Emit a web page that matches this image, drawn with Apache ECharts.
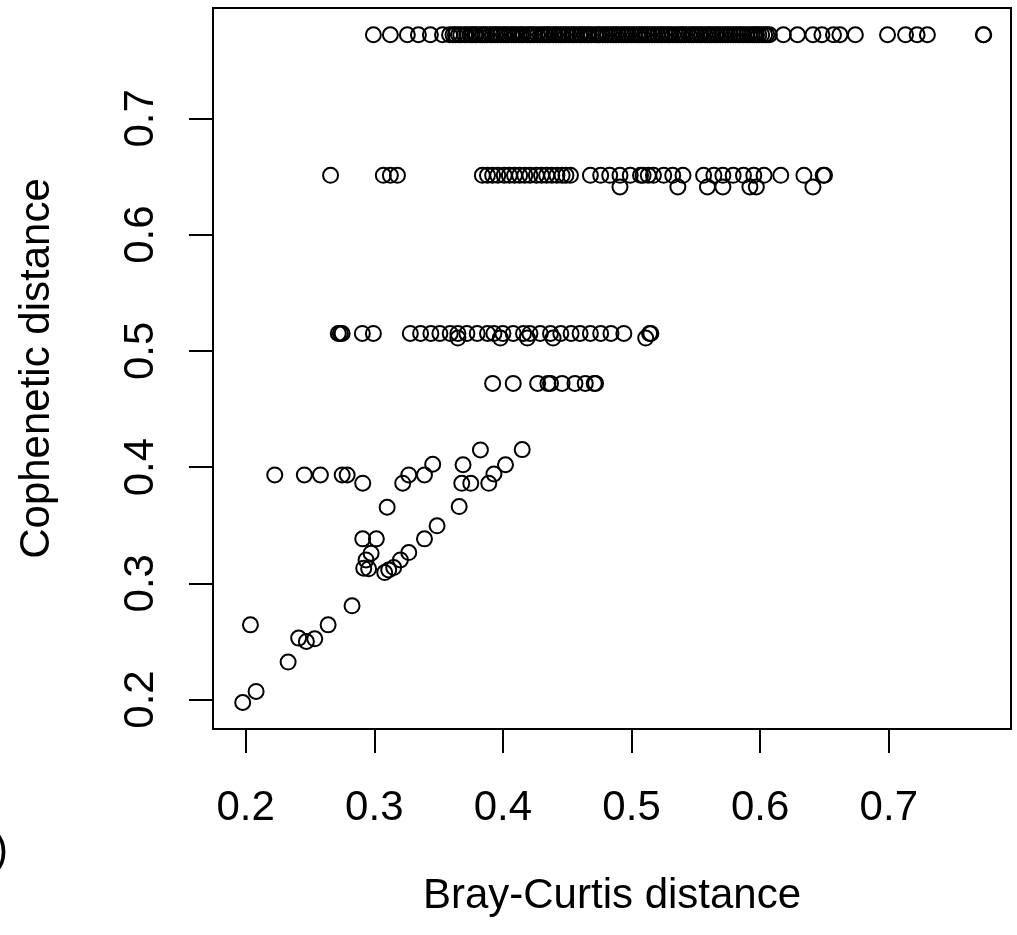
<!DOCTYPE html>
<html>
<head>
<meta charset="utf-8">
<script src="https://cdn.jsdelivr.net/npm/echarts@6/dist/echarts.min.js"></script>
<style>
html,body{margin:0;padding:0;background:#fff;}
#chart{width:1017px;height:935px;}
</style>
</head>
<body>
<div id="chart"></div>
<script>
// Tick values
const xTicks = [0.2, 0.3, 0.4, 0.5, 0.6, 0.7];
const yTicks = [0.2, 0.3, 0.4, 0.5, 0.6, 0.7];

// Top band (cophenetic ~0.772)
const topY = 0.772;
const topX = [0.2993, 0.3125, 0.3257, 0.3343, 0.3436, 0.3530,
  0.3585, 0.3612, 0.3630, 0.3655, 0.3672, 0.3701, 0.3718, 0.3745, 0.3760, 0.3781, 0.3795,
  0.3822, 0.3840, 0.3858, 0.3875, 0.3902, 0.3920, 0.3941, 0.3958, 0.3980, 0.4003, 0.4021,
  0.4040, 0.4066, 0.4082, 0.4101, 0.4125, 0.4143, 0.4160, 0.4188, 0.4205, 0.4221, 0.4242,
  0.4268, 0.4290, 0.4311, 0.4330, 0.4349, 0.4365, 0.4392, 0.4410, 0.4431, 0.4452, 0.4470,
  0.4490, 0.4512, 0.4535, 0.4551, 0.4570, 0.4596, 0.4612, 0.4633, 0.4655, 0.4671, 0.4690,
  0.4719, 0.4738, 0.4752, 0.4775, 0.4798, 0.4815, 0.4840, 0.4860, 0.4878, 0.4897, 0.4921,
  0.4940, 0.4960, 0.4978, 0.5001, 0.5020, 0.5043, 0.5062, 0.5080, 0.5100, 0.5119, 0.5138,
  0.5161, 0.5180, 0.5203, 0.5225, 0.5240, 0.5262, 0.5283, 0.5300, 0.5322, 0.5345, 0.5366,
  0.5385, 0.5402, 0.5420, 0.5447, 0.5468, 0.5484, 0.5505, 0.5527, 0.5545, 0.5570, 0.5590,
  0.5608, 0.5625, 0.5650, 0.5668, 0.5689, 0.5710, 0.5731, 0.5748, 0.5769, 0.5790, 0.5811,
  0.5832, 0.5850, 0.5870, 0.5893, 0.5915, 0.5937, 0.5955, 0.5972, 0.5990, 0.6012, 0.6035,
  0.6052, 0.6072, 0.618, 0.629, 0.641, 0.648, 0.657, 0.662, 0.674, 0.699, 0.713,
  0.722, 0.730, 0.7735, 0.7738];

// Band ~0.651
const b651Y = 0.651;
const b651X = [0.266, 0.307, 0.3125, 0.318, 0.384, 0.388, 0.392, 0.396, 0.401, 0.405, 0.409,
  0.413, 0.417, 0.421, 0.426, 0.430, 0.434, 0.438, 0.442, 0.446, 0.449, 0.4525, 0.468, 0.476,
  0.483, 0.491, 0.499, 0.507, 0.509, 0.513, 0.517, 0.525, 0.532, 0.540, 0.556, 0.564, 0.571,
  0.579, 0.587, 0.595, 0.603, 0.616, 0.634, 0.649, 0.650];

// Band ~0.641
const b641Y = 0.641;
const b641X = [0.491, 0.536, 0.559, 0.571, 0.592, 0.597, 0.641];

// Band ~0.515
const b515Y = 0.515;
const b515X = [0.272, 0.2736, 0.275, 0.2907, 0.2993, 0.328, 0.336, 0.344, 0.351, 0.359, 0.365,
  0.372, 0.380, 0.388, 0.393, 0.400, 0.408, 0.416, 0.421, 0.429, 0.437, 0.445, 0.453, 0.460,
  0.468, 0.476, 0.484, 0.494, 0.514, 0.515];

// Band ~0.511
const b511Y = 0.511;
const b511X = [0.365, 0.398, 0.419, 0.439, 0.511];

// Band ~0.472
const b472Y = 0.472;
const b472X = [0.392, 0.408, 0.427, 0.435, 0.437, 0.446, 0.456, 0.464, 0.471, 0.472];

// Remaining scattered points
const lowX = [0.2226, 0.2456, 0.2581, 0.2750, 0.2789, 0.2910, 0.3100, 0.3221, 0.3268, 0.3390,
  0.3454, 0.3488, 0.2910, 0.3016, 0.2975, 0.2936, 0.2918, 0.2956, 0.3081, 0.3112, 0.3151,
  0.3203, 0.3268, 0.3390, 0.2827, 0.2641, 0.2537, 0.2472, 0.2412, 0.2330, 0.2037, 0.2081,
  0.1977, 0.366, 0.369, 0.368, 0.375, 0.3825, 0.389, 0.393, 0.402, 0.415];
const lowY = [0.3932, 0.3932, 0.3932, 0.3932, 0.3932, 0.3861, 0.3654, 0.3861, 0.3932, 0.3932,
  0.4024, 0.3494, 0.3382, 0.3382, 0.3259, 0.3201, 0.3130, 0.3124, 0.3092, 0.3115, 0.3135,
  0.3201, 0.3264, 0.3382, 0.2806, 0.2642, 0.2522, 0.2499, 0.2528, 0.2322, 0.2642, 0.2069,
  0.1974, 0.366, 0.402, 0.386, 0.386, 0.4147, 0.386, 0.394, 0.402, 0.415];

const points = [];
function addBand(xs, y) { xs.forEach(x => points.push([x, y])); }
addBand(topX, topY);
addBand(b651X, b651Y);
addBand(b641X, b641Y);
addBand(b515X, b515Y);
addBand(b511X, b511Y);
addBand(b472X, b472Y);
lowX.forEach((x, i) => points.push([x, lowY[i]]));

const FONT = '"Liberation Sans", Arial, Helvetica, sans-serif';
const chart = echarts.init(document.getElementById('chart'), null, {renderer: 'canvas'});
chart.setOption({
  animation: false,
  backgroundColor: '#fff',
  grid: {left: 213, top: 8, width: 798, height: 721, show: true, borderColor: '#000', borderWidth: 2, containLabel: false},
  xAxis: {
    type: 'value', min: 0.1746, max: 0.795,
    splitLine: {show: false},
    axisLine: {show: false},
    axisTick: {show: true, length: 24, lineStyle: {color: '#000', width: 2}, customValues: xTicks},
    axisLabel: {customValues: xTicks, formatter: v => v.toFixed(1), fontSize: 42, color: '#000', fontFamily: FONT, margin: 58},
    name: 'Bray-Curtis distance', nameLocation: 'middle', nameGap: 146,
    nameTextStyle: {fontSize: 42, color: '#000', fontFamily: FONT}
  },
  yAxis: {
    type: 'value', min: 0.1746, max: 0.795,
    splitLine: {show: false},
    axisLine: {show: false},
    axisTick: {show: true, length: 24, lineStyle: {color: '#000', width: 2}, customValues: yTicks},
    axisLabel: {customValues: yTicks, formatter: v => v.toFixed(1), fontSize: 42, color: '#000', fontFamily: FONT, margin: 51, rotate: 90},
    name: 'Cophenetic distance', nameLocation: 'middle', nameGap: 155,
    nameTextStyle: {fontSize: 42, color: '#000', fontFamily: FONT}
  },
  graphic: [{type: 'text', x: -6, y: 830, style: {text: ')', fontSize: 42, fill: '#000', font: '42px ' + FONT}}],
  series: [{
    type: 'scatter',
    data: points,
    symbol: 'circle',
    symbolSize: 15,
    itemStyle: {color: 'rgba(0,0,0,0)', borderColor: '#000', borderWidth: 2, opacity: 1},
    emphasis: {disabled: true}
  }]
});
</script>
</body>
</html>
